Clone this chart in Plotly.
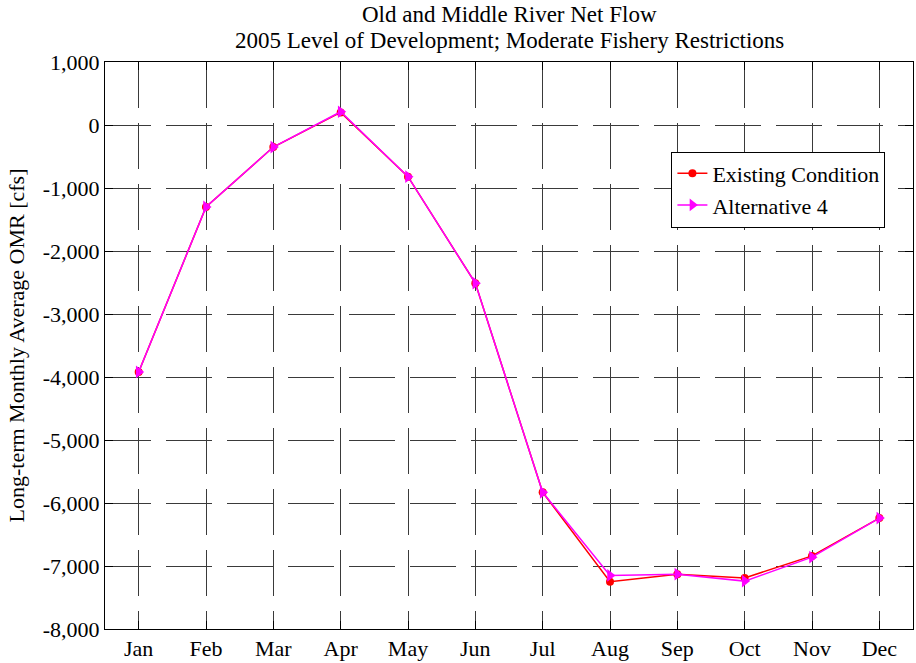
import plotly.graph_objects as go

months = ["Jan", "Feb", "Mar", "Apr", "May", "Jun", "Jul", "Aug", "Sep", "Oct", "Nov", "Dec"]
existing = [-3920, -1300, -350, 200, -820, -2510, -5830, -7250, -7130, -7190, -6840, -6240]
alt4 = [-3920, -1300, -350, 210, -820, -2510, -5830, -7150, -7130, -7240, -6860, -6240]
yticks = [1000, 0, -1000, -2000, -3000, -4000, -5000, -6000, -7000, -8000]
yticklabels = ["1,000", "0", "-1,000", "-2,000", "-3,000", "-4,000", "-5,000", "-6,000", "-7,000", "-8,000"]
title_lines = ["Old and Middle River Net Flow", "2005 Level of Development; Moderate Fishery Restrictions"]

xpos = list(range(1, 13))
font = "Liberation Serif, Times New Roman, serif"
FS = 22

fig = go.Figure()
fig.add_trace(go.Scatter(
    x=xpos, y=existing, name="Existing Condition", mode="lines+markers",
    line=dict(color="#ff0000", width=1.5),
    marker=dict(symbol="circle", size=8, color="#ff0000"),
))
fig.add_trace(go.Scatter(
    x=xpos, y=alt4, name="Alternative 4", mode="lines+markers",
    line=dict(color="#ff00ff", width=1.5),
    marker=dict(symbol="triangle-right", size=11, color="#ff00ff"),
))

H = 663
plot_top, plot_bot = 62, 632
def ypaper(py):
    return (plot_bot - py) / (plot_bot - plot_top)

fig.update_layout(
    width=916, height=H,
    paper_bgcolor="white", plot_bgcolor="white",
    margin=dict(l=105, r=2, t=62, b=31),
    font=dict(family=font, size=FS, color="black"),
    showlegend=True,
    legend=dict(
        x=0.701, y=ypaper(152), xanchor="left", yanchor="top",
        bordercolor="black", borderwidth=1, bgcolor="white",
        font=dict(family=font, size=FS, color="black"),
        itemwidth=30, tracegroupgap=0,
    ),
    annotations=[
        dict(text=title_lines[0], x=0.5, xref="paper", y=ypaper(14), yref="paper",
             xanchor="center", yanchor="middle", showarrow=False,
             font=dict(family=font, size=23, color="black")),
        dict(text=title_lines[1], x=0.5, xref="paper", y=ypaper(40), yref="paper",
             xanchor="center", yanchor="middle", showarrow=False,
             font=dict(family=font, size=23, color="black")),
    ],
)
fig.update_xaxes(
    range=[0.5, 12.5], tickmode="array", tickvals=xpos, ticktext=months,
    showline=True, linecolor="black", linewidth=1, mirror="ticks",
    ticks="inside", ticklen=8, tickcolor="black",
    showgrid=True, gridcolor="#3a3a3a", gridwidth=1, griddash="46px,15px",
    zeroline=False, tickfont=dict(family=font, size=FS),
)
fig.update_yaxes(
    range=[-8000, 1000], tickmode="array", tickvals=yticks, ticktext=yticklabels,
    showline=True, linecolor="black", linewidth=1, mirror="ticks",
    ticks="inside", ticklen=8, tickcolor="black",
    showgrid=True, gridcolor="#3a3a3a", gridwidth=1, griddash="46px,15px",
    zeroline=False, tickfont=dict(family=font, size=FS),
    title=dict(text="Long-term Monthly Average OMR [cfs]", font=dict(family=font, size=FS), standoff=12),
)

fig.write_html("out.html", config={"displayModeBar": False},
               post_script="document.body.style.margin='0';document.body.style.overflow='hidden';")
